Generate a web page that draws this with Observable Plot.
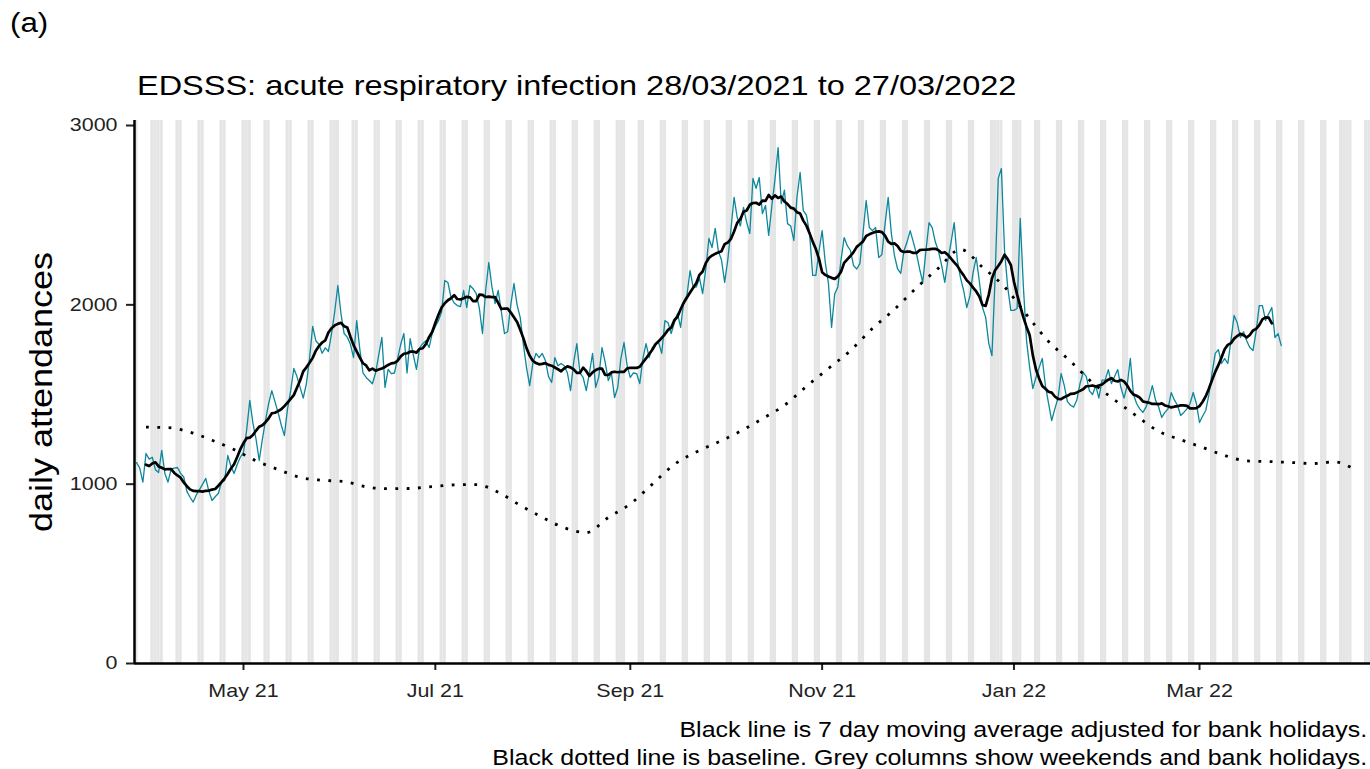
<!DOCTYPE html>
<html>
<head>
<meta charset="utf-8">
<script src="https://cdn.jsdelivr.net/npm/d3@7"></script>
<script src="https://cdn.jsdelivr.net/npm/@observablehq/plot@0.6"></script>
<style>
html,body{margin:0;padding:0;background:#fff;}
#wrap{position:relative;width:1370px;height:769px;overflow:hidden;font-family:"Liberation Sans",Arial,sans-serif;color:#000;background:#fff;}
.t{position:absolute;white-space:nowrap;line-height:1;}
</style>
</head>
<body>
<div id="wrap">
  <div id="chart" style="position:absolute;left:0;top:0;"></div>
  <div class="t" style="left:10px;top:10px;font-size:27px;transform:scaleX(1.16);transform-origin:0 0;">(a)</div>
  <div class="t" style="left:137px;top:72.3px;font-size:28px;transform:scaleX(1.16);transform-origin:0 0;">EDSSS: acute respiratory infection 28/03/2021 to 27/03/2022</div>
  <div class="t" style="left:41px;top:392px;font-size:31px;transform:translate(-50%,-50%) rotate(-90deg) scaleX(1.16);">daily attendances</div>
  <div class="t" style="right:3px;top:715.5px;font-size:21.5px;line-height:28px;text-align:right;transform:scaleX(1.16);transform-origin:100% 0;">Black line is 7 day moving average adjusted for bank holidays.<br>Black dotted line is baseline. Grey columns show weekends and bank holidays.</div>
</div>
<script>
// ---- data ----
const startDate = "2021-03-28"; // first day of the daily series (Sunday)
const daily = [
  1120,1090,1011,1171,1140,1150,1080,
  1065,1188,1060,1011,1085,1090,1093,
  1060,1040,960,927,900,940,970,
  1000,1032,960,909,930,948,1011,
  1020,1160,1100,1060,1110,1150,1178,
  1300,1467,1340,1250,1132,1250,1355,
  1450,1522,1460,1400,1330,1271,1420,
  1520,1645,1600,1540,1480,1560,1700,
  1880,1800,1780,1730,1760,1740,1840,
  1960,2108,1950,1840,1820,1780,1706,
  1912,1750,1620,1595,1578,1560,1620,
  1720,1818,1540,1640,1617,1620,1700,
  1780,1840,1620,1812,1720,1640,1760,
  1784,1800,1762,1840,1880,1912,1960,
  2136,2125,2041,2010,1996,1990,2080,
  1985,2108,2090,2063,1980,1840,2080,
  2236,2100,2007,2080,1960,1840,1850,
  2000,2119,2000,1929,1780,1650,1550,
  1673,1729,1706,1729,1690,1600,1567,
  1706,1660,1673,1660,1620,1522,1680,
  1784,1620,1595,1522,1620,1729,1540,
  1600,1762,1680,1578,1620,1483,1539,
  1700,1790,1660,1595,1620,1617,1561,
  1700,1784,1706,1760,1780,1790,1729,
  1912,1900,1840,1900,1952,1874,2020,
  2050,2191,2097,2100,2150,2063,2200,
  2370,2320,2426,2300,2250,2125,2250,
  2420,2599,2487,2440,2543,2460,2398,
  2705,2650,2710,2509,2554,2387,2550,
  2700,2877,2565,2640,2453,2440,2359,
  2600,2738,2526,2500,2400,2164,2164,
  2300,2414,2236,2120,1874,2060,2100,
  2250,2375,2330,2303,2219,2200,2230,
  2400,2582,2431,2414,2431,2264,2280,
  2450,2599,2400,2275,2200,2175,2300,
  2350,2414,2350,2286,2200,2125,2300,
  2459,2431,2350,2300,2220,2125,2250,
  2350,2459,2247,2150,2080,1985,2050,
  2180,2264,2130,1985,1930,1784,1717,
  2150,2705,2760,2303,2100,1969,1969,
  1980,2482,2100,1800,1650,1533,1595,
  1650,1701,1550,1450,1355,1420,1480,
  1617,1550,1460,1440,1430,1470,1560,
  1623,1600,1520,1500,1550,1480,1580,
  1580,1639,1561,1600,1639,1539,1480,
  1550,1701,1500,1450,1420,1400,1430,
  1480,1550,1470,1430,1372,1400,1420,
  1511,1470,1440,1383,1400,1420,1450,
  1511,1450,1344,1380,1411,1500,1620,
  1729,1750,1673,1700,1673,1800,1941,
  1900,1818,1850,1800,1762,1745,1850,
  1996,1996,1913,1950,1985,1818,1840,
  1773
];
const baselineDates = [
  "2021-03-31","2021-04-07","2021-04-14","2021-04-21","2021-04-28","2021-05-05","2021-05-12","2021-05-19","2021-05-26","2021-06-02",
  "2021-06-09","2021-06-16","2021-06-23","2021-06-30","2021-07-07","2021-07-14","2021-07-21","2021-07-28","2021-08-04","2021-08-11",
  "2021-08-18","2021-08-25","2021-09-01","2021-09-08","2021-09-15","2021-09-22","2021-09-29","2021-10-06","2021-10-13","2021-10-20",
  "2021-10-27","2021-11-03","2021-11-10","2021-11-17","2021-11-24","2021-12-01","2021-12-08","2021-12-15","2021-12-22","2021-12-29",
  "2022-01-05","2022-01-12","2022-01-19","2022-01-26","2022-02-02","2022-02-09","2022-02-16","2022-02-23","2022-03-02","2022-03-09",
  "2022-03-16","2022-03-23","2022-03-30","2022-04-06","2022-04-13","2022-04-18"
];
const baselineValues = [
  1318,1315,1290,1245,1193,1130,1082,1038,1022,1015,
  985,975,976,987,996,998,955,882,815,757,
  730,814,890,1000,1110,1180,1235,1295,1365,1440,
  1545,1645,1745,1868,1975,2095,2205,2309,2210,2100,
  1945,1796,1685,1565,1470,1380,1295,1248,1205,1160,
  1130,1126,1121,1115,1124,1095
];
const bankHolidays = ["2021-04-02","2021-04-05","2021-05-03","2021-05-31","2021-08-30",
  "2021-12-27","2021-12-28","2022-01-03","2022-04-15","2022-04-18"];
const xTickDates = ["2021-05-01","2021-07-01","2021-09-01","2021-11-01","2022-01-01","2022-03-01"];
const yTicks = [0, 1000, 2000, 3000];

// ---- build tables ----
const parse = d3.utcParse("%Y-%m-%d");
const start = parse(startDate);
const dailyData = daily.map((v, i) => ({date: d3.utcDay.offset(start, i), value: v}));
const baselineData = baselineDates.map((d, i) => ({date: parse(d), value: baselineValues[i]}));
const bhSet = new Set(bankHolidays);
const xDomain = [new Date("2021-03-27T08:10:00Z"), new Date("2022-04-24T09:00:00Z")];
const fmtDay = d3.utcFormat("%Y-%m-%d");
const greyDays = d3.utcDay.range(d3.utcDay.floor(xDomain[0]), xDomain[1])
  .filter(d => d.getUTCDay() === 0 || d.getUTCDay() === 6 || bhSet.has(fmtDay(d)));

const chart = Plot.plot({
  width: 1370,
  height: 769,
  marginLeft: 134,
  marginRight: 0,
  marginTop: 120,
  marginBottom: 106,
  style: {fontFamily: "'Liberation Sans', Arial, sans-serif", fontSize: "18.5px", color: "#222", background: "white"},
  x: {type: "utc", domain: xDomain},
  y: {domain: [0, 3028]},
  marks: [
    Plot.rect(greyDays, {x1: d => d3.utcHour.offset(d, -12), x2: d => d3.utcHour.offset(d, 12), fill: "#e5e5e5", clip: true}),
    Plot.lineY(dailyData, {x: "date", y: "value", stroke: "#0c879c", strokeWidth: 1.3}),
    Plot.lineY(dailyData, Plot.windowY({k: 7, anchor: "middle", strict: true, reduce: "mean"},
      {x: "date", y: "value", stroke: "black", strokeWidth: 2.7, strokeLinejoin: "round"})),
    Plot.line(baselineData, {x: "date", y: "value", stroke: "black", strokeWidth: 2.8,
      strokeDasharray: "2.8,8.5", strokeLinecap: "butt", curve: "monotone-x"}),
    Plot.axisX({ticks: xTickDates.map(parse), tickFormat: d3.utcFormat("%b %y"), tickSize: 7, tickPadding: 13, label: null, strokeWidth: 2}),
    Plot.axisY({ticks: yTicks, tickFormat: "d", tickSize: 8, tickPadding: 9, label: null, strokeWidth: 2}),
    Plot.ruleY([0], {stroke: "black", strokeWidth: 2.5}),
    Plot.ruleX([xDomain[0]], {stroke: "black", strokeWidth: 2.5})
  ]
});

// widen tick labels along their baseline to match the reference lettering
chart.querySelectorAll("text").forEach(t => {
  const tr = t.getAttribute("transform");
  if (tr) t.setAttribute("transform", tr + " scale(1.16,1)");
});
document.getElementById("chart").appendChild(chart);
</script>
</body>
</html>
